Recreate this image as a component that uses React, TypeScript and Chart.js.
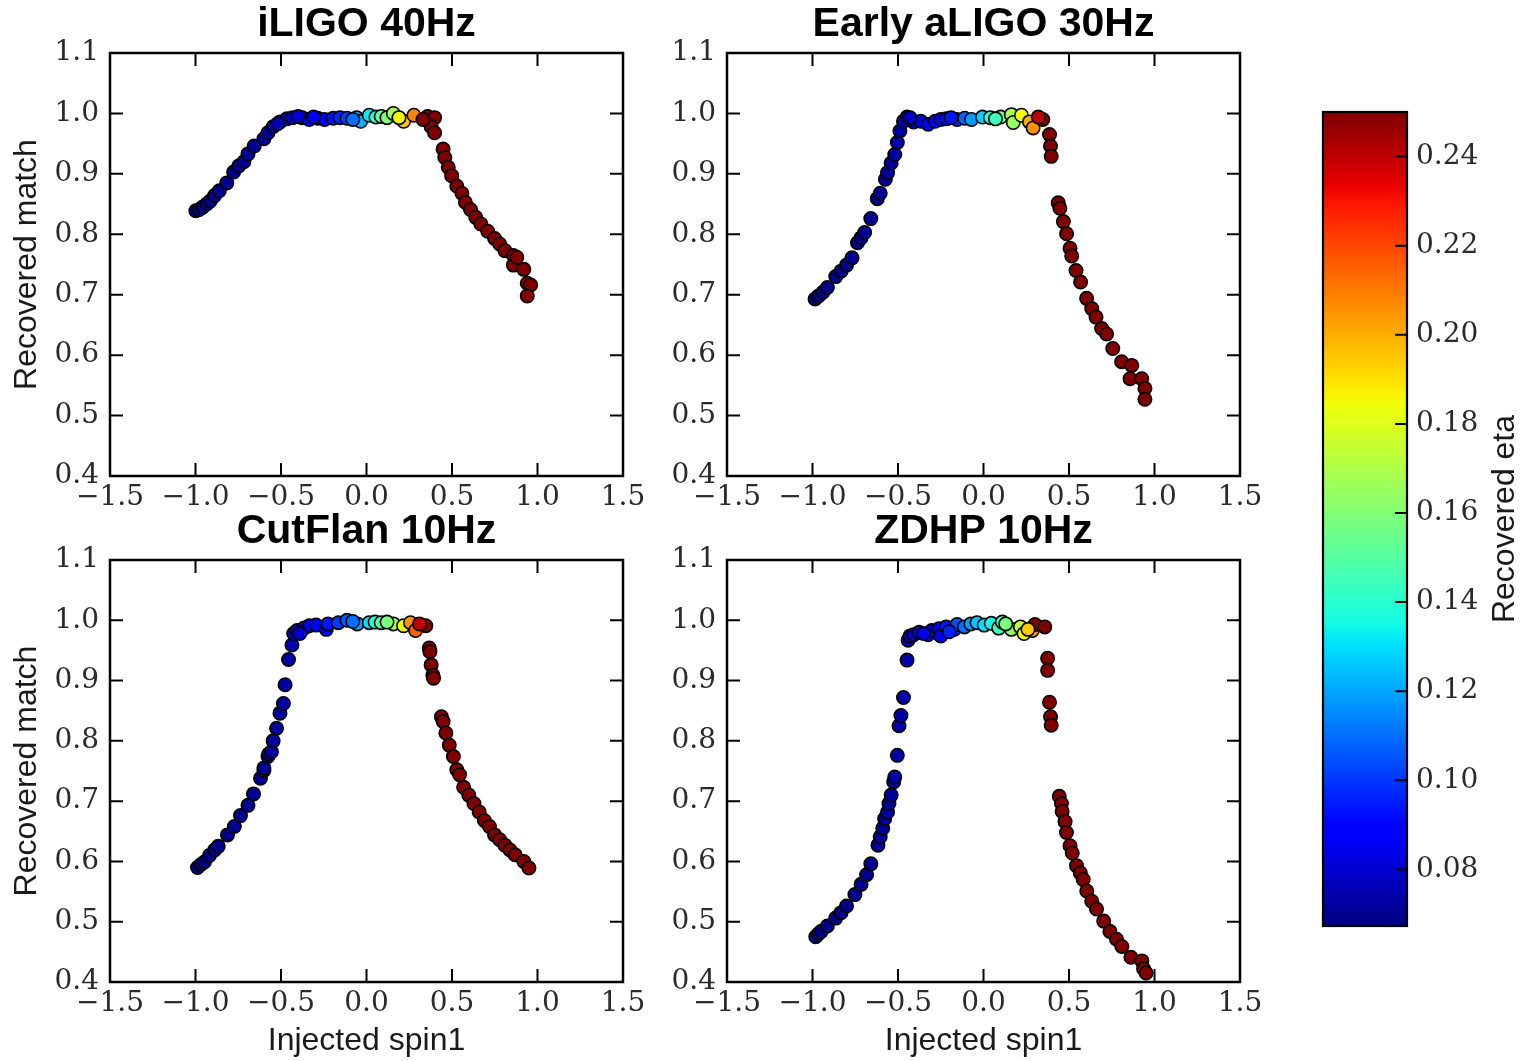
import React, { useEffect, useRef } from "react";
import { Chart, registerables } from "chart.js";

Chart.register(...registerables);

// ---------------- data ----------------
const PANEL_TITLES = ["iLIGO 40Hz", "Early aLIGO 30Hz", "CutFlan 10Hz", "ZDHP 10Hz"];
const X_LABEL = "Injected spin1";
const Y_LABEL = "Recovered match";
const CBAR_LABEL = "Recovered eta";

const X_TICKS = [-1.5, -1.0, -0.5, 0.0, 0.5, 1.0, 1.5];
const Y_TICKS = [0.4, 0.5, 0.6, 0.7, 0.8, 0.9, 1.0, 1.1];
const CBAR_TICKS = [0.08, 0.1, 0.12, 0.14, 0.16, 0.18, 0.2, 0.22, 0.24];
const ETA_MIN = 0.0673;
const ETA_MAX = 0.25;

// iLIGO 40Hz
const ILIGO_SPIN = [
  -0.998, -0.978, -0.958, -0.934, -0.914, -0.888, -0.861, -0.817, -0.777, -0.747,
  -0.717, -0.693, -0.657, -0.600, -0.576, -0.546, -0.506, -0.466, -0.432, -0.376,
  -0.335, -0.285, -0.245, -0.195, -0.155, -0.114, -0.058, -0.034, 0.016, 0.055,
  0.086, 0.120, 0.157, 0.217, 0.277, 0.357, 0.398, 0.378, 0.398, 0.448,
  0.458, 0.478, 0.498, 0.528, 0.558, 0.578, 0.608, 0.639, 0.669, 0.709,
  0.749, 0.779, 0.809, 0.859, 0.859, 0.879, 0.920, 0.940, 0.960, 0.940,
  -0.520, -0.400, -0.310, -0.080, 0.190, 0.330,
];
const ILIGO_MATCH = [
  0.839, 0.841, 0.845, 0.850, 0.855, 0.864, 0.872, 0.885, 0.903, 0.913,
  0.920, 0.933, 0.946, 0.958, 0.968, 0.978, 0.986, 0.991, 0.993, 0.993,
  0.990, 0.992, 0.990, 0.992, 0.993, 0.992, 0.993, 0.987, 0.997, 0.994,
  0.995, 0.993, 1.000, 0.987, 0.997, 0.995, 0.993, 0.978, 0.968, 0.941,
  0.927, 0.911, 0.897, 0.880, 0.868, 0.853, 0.841, 0.828, 0.817, 0.805,
  0.793, 0.784, 0.773, 0.765, 0.749, 0.762, 0.742, 0.719, 0.716, 0.698,
  0.983, 0.995, 0.994, 0.990, 0.993, 0.990,
];
const ILIGO_ETA = [
  0.068, 0.068, 0.068, 0.069, 0.069, 0.069, 0.069, 0.070, 0.070, 0.070,
  0.070, 0.071, 0.071, 0.072, 0.072, 0.073, 0.074, 0.076, 0.079, 0.084,
  0.088, 0.089, 0.090, 0.093, 0.097, 0.102, 0.118, 0.122, 0.132, 0.142,
  0.152, 0.160, 0.168, 0.195, 0.208, 0.250, 0.250, 0.250, 0.250, 0.250,
  0.250, 0.250, 0.250, 0.250, 0.250, 0.250, 0.250, 0.250, 0.250, 0.250,
  0.250, 0.250, 0.250, 0.250, 0.250, 0.250, 0.250, 0.250, 0.250, 0.250,
  0.075, 0.081, 0.086, 0.110, 0.185, 0.250,
];

// Early aLIGO 30Hz
const EALIGO_SPIN = [
  -0.985, -0.964, -0.939, -0.913, -0.864, -0.833, -0.801, -0.769, -0.737, -0.716,
  -0.695, -0.659, -0.621, -0.604, -0.574, -0.561, -0.540, -0.519, -0.504, -0.489,
  -0.468, -0.447, -0.409, -0.367, -0.324, -0.282, -0.250, -0.218, -0.155, -0.110,
  -0.070, -0.006, 0.040, 0.100, 0.163, 0.174, 0.222, 0.269, 0.290, 0.347,
  0.386, 0.392, 0.396, 0.437, 0.447, 0.467, 0.486, 0.506, 0.516, 0.541,
  0.568, 0.603, 0.633, 0.658, 0.691, 0.720, 0.756, 0.808, 0.867, 0.857,
  0.925, 0.944, 0.944, -0.430, -0.190, 0.070, 0.320,
];
const EALIGO_MATCH = [
  0.693, 0.698, 0.704, 0.712, 0.730, 0.739, 0.749, 0.761, 0.786, 0.794,
  0.803, 0.826, 0.859, 0.868, 0.891, 0.902, 0.918, 0.932, 0.952, 0.971,
  0.987, 0.994, 0.986, 0.987, 0.982, 0.987, 0.990, 0.991, 0.990, 0.992,
  0.990, 0.994, 0.993, 0.994, 0.998, 0.985, 0.997, 0.986, 0.976, 0.990,
  0.965, 0.946, 0.929, 0.852, 0.843, 0.821, 0.801, 0.777, 0.764, 0.740,
  0.721, 0.694, 0.677, 0.663, 0.644, 0.635, 0.611, 0.589, 0.583, 0.561,
  0.561, 0.545, 0.527, 0.993, 0.993, 0.991, 0.994,
];
const EALIGO_ETA = [
  0.068, 0.068, 0.068, 0.069, 0.069, 0.069, 0.069, 0.070, 0.070, 0.070,
  0.070, 0.071, 0.071, 0.071, 0.072, 0.072, 0.072, 0.073, 0.073, 0.074,
  0.075, 0.076, 0.080, 0.083, 0.085, 0.087, 0.089, 0.092, 0.098, 0.108,
  0.118, 0.128, 0.140, 0.155, 0.170, 0.165, 0.185, 0.200, 0.205, 0.250,
  0.250, 0.250, 0.250, 0.250, 0.250, 0.250, 0.250, 0.250, 0.250, 0.250,
  0.250, 0.250, 0.250, 0.250, 0.250, 0.250, 0.250, 0.250, 0.250, 0.250,
  0.250, 0.250, 0.250, 0.078, 0.094, 0.145, 0.240,
];

// CutFlan 10Hz
const CUTFLAN_SPIN = [
  -0.988, -0.968, -0.948, -0.918, -0.888, -0.867, -0.813, -0.773, -0.737, -0.693,
  -0.661, -0.620, -0.600, -0.600, -0.576, -0.572, -0.556, -0.546, -0.526, -0.506,
  -0.486, -0.476, -0.456, -0.436, -0.426, -0.406, -0.365, -0.335, -0.295, -0.235,
  -0.225, -0.165, -0.114, -0.054, 0.016, 0.050, 0.086, 0.157, 0.217, 0.257,
  0.287, 0.347, 0.367, 0.371, 0.378, 0.388, 0.392, 0.438, 0.448, 0.464,
  0.484, 0.508, 0.528, 0.544, 0.568, 0.598, 0.628, 0.659, 0.689, 0.719,
  0.749, 0.779, 0.809, 0.839, 0.869, 0.920, 0.950, -0.390, -0.080, 0.120, 0.310,
];
const CUTFLAN_MATCH = [
  0.590, 0.595, 0.599, 0.610, 0.619, 0.625, 0.644, 0.658, 0.676, 0.693,
  0.712, 0.738, 0.751, 0.755, 0.774, 0.778, 0.782, 0.800, 0.821, 0.846,
  0.862, 0.893, 0.935, 0.959, 0.978, 0.983, 0.987, 0.991, 0.992, 0.985,
  0.994, 0.996, 1.000, 0.994, 0.996, 0.997, 0.996, 0.994, 0.991, 0.996,
  0.983, 0.991, 0.954, 0.948, 0.926, 0.909, 0.904, 0.840, 0.832, 0.813,
  0.793, 0.774, 0.752, 0.744, 0.723, 0.710, 0.696, 0.682, 0.668, 0.658,
  0.644, 0.636, 0.627, 0.619, 0.611, 0.600, 0.589, 0.978, 0.998, 0.997, 0.994,
];
const CUTFLAN_ETA = [
  0.068, 0.068, 0.068, 0.069, 0.069, 0.069, 0.069, 0.070, 0.070, 0.070,
  0.070, 0.071, 0.071, 0.071, 0.071, 0.072, 0.072, 0.072, 0.072, 0.073,
  0.073, 0.073, 0.074, 0.075, 0.076, 0.078, 0.082, 0.085, 0.088, 0.090,
  0.094, 0.100, 0.106, 0.120, 0.130, 0.140, 0.148, 0.168, 0.185, 0.205,
  0.215, 0.250, 0.250, 0.250, 0.250, 0.250, 0.250, 0.250, 0.250, 0.250,
  0.250, 0.250, 0.250, 0.250, 0.250, 0.250, 0.250, 0.250, 0.250, 0.250,
  0.250, 0.250, 0.250, 0.250, 0.250, 0.250, 0.250, 0.080, 0.110, 0.158, 0.240,
];

// ZDHP 10Hz
const ZDHP_SPIN = [
  -0.981, -0.965, -0.949, -0.913, -0.864, -0.833, -0.801, -0.752, -0.716, -0.684,
  -0.659, -0.617, -0.604, -0.589, -0.578, -0.561, -0.553, -0.540, -0.525, -0.519,
  -0.504, -0.494, -0.483, -0.468, -0.447, -0.441, -0.430, -0.409, -0.377, -0.324,
  -0.303, -0.261, -0.250, -0.218, -0.172, -0.155, -0.112, -0.074, -0.038, 0.004,
  0.045, 0.089, 0.110, 0.163, 0.216, 0.237, 0.286, 0.301, 0.358, 0.375,
  0.375, 0.386, 0.392, 0.396, 0.443, 0.456, 0.460, 0.477, 0.485, 0.506,
  0.519, 0.544, 0.566, 0.583, 0.604, 0.633, 0.661, 0.703, 0.739, 0.778,
  0.809, 0.862, 0.926, 0.936, 0.951, -0.350, -0.200, 0.130, 0.260,
];
const ZDHP_MATCH = [
  0.475, 0.480, 0.484, 0.493, 0.506, 0.515, 0.526, 0.545, 0.562, 0.578,
  0.596, 0.627, 0.641, 0.655, 0.671, 0.682, 0.696, 0.710, 0.732, 0.740,
  0.776, 0.825, 0.842, 0.872, 0.934, 0.967, 0.974, 0.976, 0.980, 0.976,
  0.983, 0.986, 0.974, 0.989, 0.985, 0.993, 0.989, 0.994, 0.996, 0.992,
  0.995, 0.987, 0.997, 0.985, 0.989, 0.978, 0.983, 0.993, 0.989, 0.937,
  0.917, 0.864, 0.840, 0.826, 0.708, 0.696, 0.683, 0.666, 0.648, 0.626,
  0.614, 0.593, 0.581, 0.570, 0.551, 0.534, 0.521, 0.501, 0.484, 0.471,
  0.459, 0.441, 0.435, 0.422, 0.415, 0.978, 0.981, 0.994, 0.985,
];
const ZDHP_ETA = [
  0.068, 0.068, 0.068, 0.069, 0.069, 0.069, 0.069, 0.070, 0.070, 0.070,
  0.070, 0.071, 0.071, 0.071, 0.071, 0.072, 0.072, 0.072, 0.072, 0.073,
  0.073, 0.073, 0.074, 0.074, 0.075, 0.075, 0.076, 0.078, 0.082, 0.086,
  0.088, 0.090, 0.089, 0.094, 0.099, 0.104, 0.110, 0.118, 0.125, 0.130,
  0.135, 0.145, 0.150, 0.163, 0.175, 0.185, 0.205, 0.250, 0.250, 0.250,
  0.250, 0.250, 0.250, 0.250, 0.250, 0.250, 0.250, 0.250, 0.250, 0.250,
  0.250, 0.250, 0.250, 0.250, 0.250, 0.250, 0.250, 0.250, 0.250, 0.250,
  0.250, 0.250, 0.250, 0.250, 0.250, 0.084, 0.096, 0.158, 0.195,
];

// ---------------- layout / style ----------------
const PAGE_W = 1526;
const PAGE_H = 1061;
const Y_AXIS_W = 100;
const X_AXIS_H = 60;
const PANEL_BOXES = [
  { left: 110, right: 623, top: 53, bottom: 476 },
  { left: 727, right: 1240, top: 53, bottom: 476 },
  { left: 110, right: 623, top: 560, bottom: 982 },
  { left: 727, right: 1240, top: 560, bottom: 982 },
];
const CBAR_BOX = { left: 1323, right: 1407, top: 112, bottom: 926 };
const SERIF = '"DejaVu Serif", "Liberation Serif", serif';
const SANS = '"Liberation Sans", Arial, sans-serif';
const TICK_FONT_SIZE = 28;
const TICK_COLOR = "#2a2a2a";
const LABEL_COLOR = "#1a1a1a";
const TICK_LEN = 13;

// jet colormap (matplotlib segment data)
const JET_R = [[0, 0], [0.35, 0], [0.66, 1], [0.89, 1], [1, 0.5]];
const JET_G = [[0, 0], [0.125, 0], [0.375, 1], [0.64, 1], [0.91, 0], [1, 0]];
const JET_B = [[0, 0.5], [0.11, 1], [0.34, 1], [0.65, 0], [1, 0]];

function seg(points: number[][], t: number): number {
  if (t <= points[0][0]) return points[0][1];
  for (let i = 1; i < points.length; i++) {
    if (t <= points[i][0]) {
      const [x0, y0] = points[i - 1];
      const [x1, y1] = points[i];
      return y0 + ((t - x0) / (x1 - x0)) * (y1 - y0);
    }
  }
  return points[points.length - 1][1];
}
function jet(t: number): string {
  const c = Math.max(0, Math.min(1, t));
  const r = Math.round(seg(JET_R, c) * 255);
  const g = Math.round(seg(JET_G, c) * 255);
  const b = Math.round(seg(JET_B, c) * 255);
  return `rgb(${r},${g},${b})`;
}
function etaColor(eta: number): string {
  return jet((eta - ETA_MIN) / (ETA_MAX - ETA_MIN));
}
const fmt1 = (v: number) => (v < -1e-9 ? "\u2212" : "") + Math.abs(v).toFixed(1);

const axesFrame = {
  id: "axesFrame",
  afterDraw(chart: any, _args: any, opts: any) {
    const { ctx, chartArea: a, scales } = chart;
    ctx.save();
    ctx.strokeStyle = "#000";
    ctx.lineWidth = 2;
    ctx.beginPath();
    for (const v of X_TICKS) {
      const px = scales.x.getPixelForValue(v);
      ctx.moveTo(px, a.bottom);
      ctx.lineTo(px, a.bottom - TICK_LEN);
      ctx.moveTo(px, a.top);
      ctx.lineTo(px, a.top + TICK_LEN);
    }
    for (const v of Y_TICKS) {
      const py = scales.y.getPixelForValue(v);
      ctx.moveTo(a.left, py);
      ctx.lineTo(a.left + TICK_LEN, py);
      ctx.moveTo(a.right, py);
      ctx.lineTo(a.right - TICK_LEN, py);
    }
    ctx.stroke();
    ctx.lineWidth = 2.5;
    ctx.strokeRect(a.left, a.top, a.right - a.left, a.bottom - a.top);

    ctx.fillStyle = "#000";
    ctx.textAlign = "center";
    ctx.textBaseline = "middle";
    ctx.font = `bold 41px ${SANS}`;
    ctx.fillText(opts.title, (a.left + a.right) / 2, a.top - 28);
    ctx.fillStyle = LABEL_COLOR;
    ctx.font = `32px ${SANS}`;
    if (opts.xlabel) ctx.fillText(opts.xlabel, (a.left + a.right) / 2, a.bottom + 59);
    if (opts.ylabel) {
      ctx.save();
      ctx.translate(27, (a.top + a.bottom) / 2);
      ctx.rotate(-Math.PI / 2);
      ctx.fillText(opts.ylabel, 0, 0);
      ctx.restore();
    }
    ctx.restore();
  },
};

const colorbarPlugin = {
  id: "colorbarPlugin",
  beforeDatasetsDraw(chart: any) {
    const { ctx, chartArea: a } = chart;
    const grad = ctx.createLinearGradient(0, a.bottom, 0, a.top);
    const stops = [0, 0.11, 0.125, 0.34, 0.35, 0.375, 0.64, 0.65, 0.66, 0.89, 0.91, 1];
    for (const s of stops) grad.addColorStop(s, jet(s));
    ctx.save();
    ctx.fillStyle = grad;
    ctx.fillRect(a.left, a.top, a.right - a.left, a.bottom - a.top);
    ctx.restore();
  },
  afterDraw(chart: any, _args: any, opts: any) {
    const { ctx, chartArea: a, scales } = chart;
    ctx.save();
    ctx.strokeStyle = "#000";
    ctx.lineWidth = 2;
    ctx.beginPath();
    for (const v of CBAR_TICKS) {
      const py = scales.y.getPixelForValue(v);
      ctx.moveTo(a.right, py);
      ctx.lineTo(a.right - 12, py);
    }
    ctx.stroke();
    ctx.lineWidth = 2.2;
    ctx.strokeRect(a.left, a.top, a.right - a.left, a.bottom - a.top);
    ctx.fillStyle = LABEL_COLOR;
    ctx.font = `32px ${SANS}`;
    ctx.textAlign = "center";
    ctx.textBaseline = "middle";
    ctx.translate(1505, (a.top + a.bottom) / 2);
    ctx.rotate(-Math.PI / 2);
    ctx.fillText(opts.label, 0, 0);
    ctx.restore();
  },
};

const PANELS = [
  { title: PANEL_TITLES[0], spin: ILIGO_SPIN, match: ILIGO_MATCH, eta: ILIGO_ETA, xlabel: "", ylabel: Y_LABEL },
  { title: PANEL_TITLES[1], spin: EALIGO_SPIN, match: EALIGO_MATCH, eta: EALIGO_ETA, xlabel: "", ylabel: "" },
  { title: PANEL_TITLES[2], spin: CUTFLAN_SPIN, match: CUTFLAN_MATCH, eta: CUTFLAN_ETA, xlabel: X_LABEL, ylabel: Y_LABEL },
  { title: PANEL_TITLES[3], spin: ZDHP_SPIN, match: ZDHP_MATCH, eta: ZDHP_ETA, xlabel: X_LABEL, ylabel: "" },
];

function panelConfig(i: number): any {
  const p = PANELS[i];
  const box = PANEL_BOXES[i];
  const tickFont = { family: SERIF, size: TICK_FONT_SIZE };
  return {
    type: "scatter",
    data: {
      datasets: [
        {
          data: p.spin.map((x, j) => ({ x, y: p.match[j] })),
          backgroundColor: p.eta.map(etaColor),
          borderColor: "#000",
          borderWidth: 1.6,
          pointRadius: 6.7,
          pointHoverRadius: 6.7,
        },
      ],
    },
    options: {
      responsive: false,
      animation: false,
      events: [],
      layout: {
        padding: {
          left: box.left - Y_AXIS_W,
          right: PAGE_W - box.right,
          top: box.top,
          bottom: PAGE_H - box.bottom - X_AXIS_H,
        },
      },
      plugins: {
        legend: { display: false },
        tooltip: { enabled: false },
        axesFrame: { title: p.title, xlabel: p.xlabel, ylabel: p.ylabel },
      },
      scales: {
        x: {
          type: "linear",
          min: X_TICKS[0],
          max: X_TICKS[X_TICKS.length - 1],
          afterBuildTicks: (s: any) => {
            s.ticks = X_TICKS.map((value) => ({ value }));
          },
          afterFit: (s: any) => {
            s.height = X_AXIS_H;
          },
          grid: { display: false, drawTicks: false },
          border: { display: false },
          ticks: {
            font: tickFont,
            color: TICK_COLOR,
            padding: 5,
            maxRotation: 0,
            autoSkip: false,
            callback: (v: any) => fmt1(Number(v)),
          },
        },
        y: {
          type: "linear",
          min: Y_TICKS[0],
          max: Y_TICKS[Y_TICKS.length - 1],
          afterBuildTicks: (s: any) => {
            s.ticks = Y_TICKS.map((value) => ({ value }));
          },
          afterFit: (s: any) => {
            s.width = Y_AXIS_W;
          },
          grid: { display: false, drawTicks: false },
          border: { display: false },
          ticks: {
            font: tickFont,
            color: TICK_COLOR,
            padding: 11,
            autoSkip: false,
            callback: (v: any) => fmt1(Number(v)),
          },
        },
      },
    },
    plugins: [axesFrame],
  };
}

function colorbarConfig(): any {
  return {
    type: "scatter",
    data: { datasets: [] },
    options: {
      responsive: false,
      animation: false,
      events: [],
      layout: {
        padding: {
          left: CBAR_BOX.left,
          right: PAGE_W - CBAR_BOX.right - Y_AXIS_W,
          top: CBAR_BOX.top,
          bottom: PAGE_H - CBAR_BOX.bottom,
        },
      },
      plugins: {
        legend: { display: false },
        tooltip: { enabled: false },
        colorbarPlugin: { label: CBAR_LABEL },
      },
      scales: {
        x: { type: "linear", display: false, min: 0, max: 1 },
        y: {
          type: "linear",
          position: "right",
          min: ETA_MIN,
          max: ETA_MAX,
          afterBuildTicks: (s: any) => {
            s.ticks = CBAR_TICKS.map((value) => ({ value }));
          },
          afterFit: (s: any) => {
            s.width = Y_AXIS_W;
          },
          grid: { display: false, drawTicks: false },
          border: { display: false },
          ticks: {
            font: { family: SERIF, size: TICK_FONT_SIZE },
            color: TICK_COLOR,
            padding: 9,
            autoSkip: false,
            callback: (v: any) => Number(v).toFixed(2),
          },
        },
      },
    },
    plugins: [colorbarPlugin],
  };
}

function ChartCanvas({ config }: { config: () => any }) {
  const ref = useRef<HTMLCanvasElement | null>(null);
  useEffect(() => {
    if (!ref.current) return;
    const chart = new Chart(ref.current, config());
    return () => chart.destroy();
  }, []);
  return (
    <canvas
      ref={ref}
      width={PAGE_W}
      height={PAGE_H}
      style={{ position: "absolute", left: 0, top: 0, width: PAGE_W, height: PAGE_H, display: "block" }}
    />
  );
}

export default function App() {
  return (
    <div
      style={{
        position: "fixed",
        left: 0,
        top: 0,
        width: PAGE_W,
        height: PAGE_H,
        background: "#fff",
        overflow: "hidden",
      }}
    >
      {PANELS.map((_, i) => (
        <ChartCanvas key={i} config={() => panelConfig(i)} />
      ))}
      <ChartCanvas config={colorbarConfig} />
    </div>
  );
}
